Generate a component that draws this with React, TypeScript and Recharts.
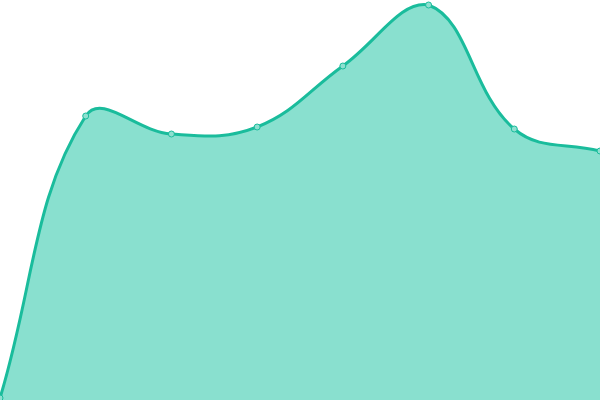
import { Area, AreaChart, XAxis, YAxis } from "recharts";

const W = 600;
const H = 400;

const labels = ["Jan", "Feb", "Mar", "Apr", "May", "Jun", "Jul", "Aug"];
const values = [2, 284, 266, 273, 334, 395, 271, 249];

const data = labels.map((label, i) => ({ label, value: values[i] }));

// Chart.js-style spline (tension 0.4) with control points capped to the plot area
function tensionCurve(context: any) {
  let xs: number[] = [];
  let ys: number[] = [];
  let line: number = NaN;
  const t = 0.4;
  const cap = (v: number, lo: number, hi: number) => Math.max(lo, Math.min(hi, v));

  return {
    areaStart() { line = 0; },
    areaEnd() { line = NaN; },
    lineStart() { xs = []; ys = []; },
    lineEnd() {
      const n = xs.length;
      if (n) {
        if (line) context.lineTo(xs[0], ys[0]);
        else context.moveTo(xs[0], ys[0]);
        const cps = xs.map((x, i) => {
          const px = xs[Math.max(0, i - 1)], py = ys[Math.max(0, i - 1)];
          const nx = xs[Math.min(n - 1, i + 1)], ny = ys[Math.min(n - 1, i + 1)];
          const d01 = Math.hypot(x - px, ys[i] - py);
          const d12 = Math.hypot(nx - x, ny - ys[i]);
          const sum = d01 + d12 || 1;
          const fa = (t * d01) / sum;
          const fb = (t * d12) / sum;
          return {
            inX: cap(x - fa * (nx - px), 0, W),
            inY: cap(ys[i] - fa * (ny - py), 0, H),
            outX: cap(x + fb * (nx - px), 0, W),
            outY: cap(ys[i] + fb * (ny - py), 0, H),
          };
        });
        for (let i = 1; i < n; i++) {
          context.bezierCurveTo(
            cps[i - 1].outX, cps[i - 1].outY,
            cps[i].inX, cps[i].inY,
            xs[i], ys[i]
          );
        }
      }
      if (line || (line !== 0 && n === 1)) context.closePath();
      line = 1 - line;
    },
    point(x: number, y: number) { xs.push(+x); ys.push(+y); },
  };
}

export default function App() {
  return (
    <div style={{ position: "absolute", left: 0, top: 0 }}>
      <AreaChart width={W} height={H} data={data} margin={{ top: 0, right: 0, bottom: 0, left: 0 }}>
        <XAxis dataKey="label" hide />
        <YAxis hide domain={[0, 400]} />
        <Area
          type={tensionCurve as any}
          dataKey="value"
          stroke="#1abc9c"
          strokeWidth={3}
          fill="#89e0cf"
          fillOpacity={1}
          dot={{ r: 3, fill: "#8ee0d0", stroke: "#1abc9c", strokeWidth: 1 }}
          activeDot={false}
          isAnimationActive={false}
        />
      </AreaChart>
    </div>
  );
}
